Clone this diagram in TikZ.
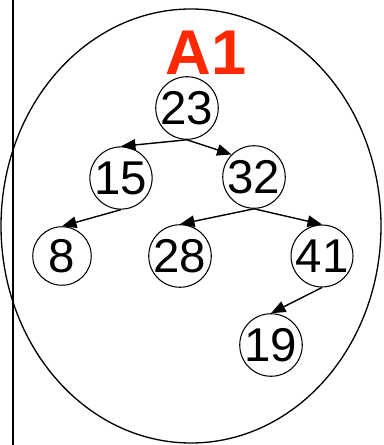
\documentclass[tikz,border=0pt]{standalone}
\usepackage{fontspec}
\setmainfont{Liberation Sans}
\usetikzlibrary{arrows.meta}
\definecolor{labelred}{RGB}{255,40,0}
\tikzset{
  keynode/.style={circle,draw,line width=0.6pt,minimum size=1.17cm,inner sep=0pt,
    font=\fontsize{27}{27}\selectfont},
  link/.style={line width=0.8pt,-{Triangle[length=0.29cm,width=0.23cm]}}
}
\begin{document}
\begin{tikzpicture}[x=0.02cm,y=-0.02cm]
		\useasboundingbox (0,0) rectangle (384,445);
		\draw[line width=0.6pt] (13,0) to (13,445);
		\draw[line width=0.75pt] (191,226) ellipse [x radius=190, y radius=217];
		\node[text=labelred,font=\bfseries\fontsize{36}{36}\selectfont] (title) at (206,53) {A1};
		\node[keynode] (n23) at (187,108) {23};
		\node[keynode] (n15) at (121,178) {15};
		\node[keynode] (n32) at (254,177) {32};
		\node[keynode] (n8) at (62,256) {8};
		\node[keynode] (n28) at (180,256) {28};
		\node[keynode] (n41) at (322,256) {41};
		\node[keynode] (n19) at (271,345) {19};
		\draw[link] (n23.south) to (n15.north);
		\draw[link] (n23.south) to (n32.north west);
		\draw[link] (n15.south) to (n8.north);
		\draw[link] (n32.south) to (n28.north);
		\draw[link] (n32.south) to (n41.north);
		\draw[link] (n41.south) to (n19.north);
\end{tikzpicture}
\end{document}
